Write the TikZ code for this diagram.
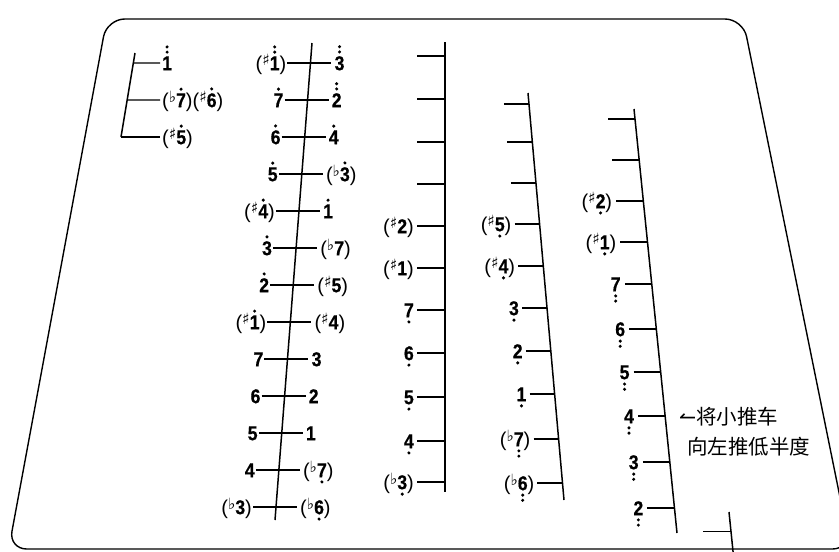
\documentclass[tikz,border=0pt]{standalone}
\usepackage{fontspec}
\setmainfont{Liberation Sans}
\newfontfamily\digf[FakeStretch=0.88,FakeBold=0.6]{Liberation Sans Bold}
\newfontfamily\parf{Liberation Sans}
\newfontfamily\accf{DejaVu Sans}
\newfontfamily\cjk{Noto Sans CJK SC}
\usetikzlibrary{calc}
\newcommand\dd{\tikz\fill (0,0) circle[radius=1.7pt];}
\newcommand\Ua[1]{\vbox{\offinterlineskip\halign{\hfil##\hfil\cr\dd\cr\noalign{\kern2.6pt}#1\cr}}}
\newcommand\Uaa[1]{\vbox{\offinterlineskip\halign{\hfil##\hfil\cr\dd\cr\noalign{\kern1.8pt}\dd\cr\noalign{\kern2.6pt}#1\cr}}}
\newcommand\Db[1]{\vtop{\offinterlineskip\halign{\hfil##\hfil\cr#1\cr\noalign{\kern3pt}\dd\cr}}}
\newcommand\Dbb[1]{\vtop{\offinterlineskip\halign{\hfil##\hfil\cr#1\cr\noalign{\kern3pt}\dd\cr\noalign{\kern1.8pt}\dd\cr}}}
\newcommand\shp{\raisebox{4.5pt}{\accf\fontsize{15.5}{15.5}\selectfont ♯}}
\newcommand\flt{\raisebox{4.5pt}{\accf\fontsize{15.5}{15.5}\selectfont ♭}}
\newcommand\pl{{\parf(}}
\newcommand\pr{{\parf)}}
\begin{document}
\begin{tikzpicture}[x=1pt,y=-1pt,
  lab/.style={font=\digf\fontsize{20}{20}\selectfont, inner sep=0pt},
  rail/.style={line width=1.5pt},
  tick/.style={line width=1.25pt},
  note/.style={font=\cjk\fontsize{20.5}{20.5}\selectfont, inner sep=0pt, anchor=base west}]
\useasboundingbox (0,0) rectangle (839,552);
\clip (0,0) rectangle (839,552);
% frame
\coordinate (fTL) at (106.8,19);
\coordinate (fTR) at (743,19);
\coordinate (fBR) at (850.5,549);
\coordinate (fBL) at (8.7,549);
\draw[line width=1.4pt, rounded corners=18pt] (fTL) -- (fTR) -- (fBR) -- (fBL) -- cycle;
% bracket group
\coordinate (bt) at (135,53);
\coordinate (bb) at (121,137);
\draw[rail] (bt) -- (bb);
\foreach \y/\t [count=\i] in {63/{\Uaa{1}}, 100/{\pl\flt\Ua{7}\pr\pl\shp\Ua{6}\pr}, 137/{\pl\shp\Ua{5}\pr}} {
  \coordinate (bk\i) at ($(bt)!{(\y-53)/84}!(bb)$);
  \coordinate (be\i) at (160,\y);
  \draw[tick] (bk\i) -- (be\i);
  \node[lab, anchor=base west] (bl\i) at ($(be\i)+(2,7.2)$) {\t};
}
% column 1
\coordinate (at) at (312,43);
\coordinate (ab) at (275,520);
\draw[rail] (at) -- (ab);
\foreach \k/\L/\R in {
  0/{\pl\shp\Uaa{1}\pr}/{\Uaa{3}},
  1/{\Ua{7}}/{\Uaa{2}},
  2/{\Ua{6}}/{\Ua{4}},
  3/{\Ua{5}}/{\pl\flt\Ua{3}\pr},
  4/{\pl\shp\Ua{4}\pr}/{\Ua{1}},
  5/{\Ua{3}}/{\pl\flt 7\pr},
  6/{\Ua{2}}/{\pl\shp 5\pr},
  7/{\pl\shp\Ua{1}\pr}/{\pl\shp 4\pr},
  8/{7}/{3},
  9/{6}/{2},
  10/{5}/{1},
  11/{4}/{\pl\flt\Db{7}\pr},
  12/{\pl\flt 3\pr}/{\pl\flt\Db{6}\pr}} {
  \pgfmathsetmacro\yy{63+37*\k}
  \coordinate (a\k) at ($(at)!{(\yy-43)/477}!(ab)$);
  \coordinate (al\k) at ($(a\k)+(-23,0)$);
  \coordinate (ar\k) at ($(a\k)+(21,0)$);
  \draw[tick] (al\k) -- (ar\k);
  \node[lab, anchor=base east] (aL\k) at ($(al\k)+(-1,7.2)$) {\L};
  \node[lab, anchor=base west] (aR\k) at ($(ar\k)+(3,7.2)$) {\R};
}
% column 2
\coordinate (ct) at (445,42);
\coordinate (cb) at (445,492);
\draw[rail] (ct) -- (cb);
\foreach \y [count=\i] in {56,99,142,184,226,268,310,353,397,441,482} {
  \coordinate (c\i) at (445,\y);
  \coordinate (cl\i) at (417,\y);
  \draw[tick] (cl\i) -- (c\i);
}
\foreach \i/\t in {5/{\pl\shp 2\pr}, 6/{\pl\shp 1\pr}, 7/{\Db{7}}, 8/{\Db{6}}, 9/{\Db{5}}, 10/{\Db{4}}, 11/{\pl\flt\Db{3}\pr}}
  \node[lab, anchor=base east] (cL\i) at ($(cl\i)+(-3,7.2)$) {\t};
% column 3
\coordinate (dt) at (528,93);
\coordinate (db) at (564,500);
\draw[rail] (dt) -- (db);
\foreach \y [count=\i] in {104,142,183,224,266,308,351,394,439,483} {
  \coordinate (d\i) at ($(dt)!{(\y-93)/407}!(db)$);
  \coordinate (dl\i) at ($(d\i)+(-25,0)$);
  \draw[tick] (dl\i) -- (d\i);
}
\foreach \i/\t in {4/{\pl\shp\Db{5}\pr}, 5/{\pl\shp\Db{4}\pr}, 6/{\Db{3}}, 7/{\Db{2}}, 8/{\Db{1}}, 9/{\pl\flt\Dbb{7}\pr}, 10/{\pl\flt\Dbb{6}\pr}}
  \node[lab, anchor=base east] (dL\i) at ($(dl\i)+(-3,7.2)$) {\t};
% column 4
\coordinate (et) at (634,109);
\coordinate (eb) at (677,533);
\draw[rail] (et) -- (eb);
\foreach \y [count=\i] in {119,160,201,242,284,329,372,416,462,508} {
  \coordinate (e\i) at ($(et)!{(\y-109)/424}!(eb)$);
  \coordinate (el\i) at ($(e\i)+(-27,0)$);
  \draw[tick] (el\i) -- (e\i);
}
\foreach \i/\t in {3/{\pl\shp\Db{2}\pr}, 4/{\pl\shp\Db{1}\pr}, 5/{\Dbb{7}}, 6/{\Dbb{6}}, 7/{\Dbb{5}}, 8/{\Dbb{4}}, 9/{\Dbb{3}}, 10/{\Dbb{2}}}
  \node[lab, anchor=base east] (eL\i) at ($(el\i)+(-4,7.2)$) {\t};
% column 5 stub
\coordinate (ft) at (729,512);
\coordinate (fb) at (733.5,556);
\draw[rail] (ft) -- (fb);
\coordinate (f1) at ($(ft)!0.45!(fb)$);
\coordinate (fl1) at ($(f1)+(-28,0)$);
\draw[tick] (fl1) -- (f1);
% note
\node[note] (n1) at (679,424) {{\accf ↼}将小推车};
\node[note] (n2) at (687,454) {向左推低半度};
\end{tikzpicture}
\end{document}
